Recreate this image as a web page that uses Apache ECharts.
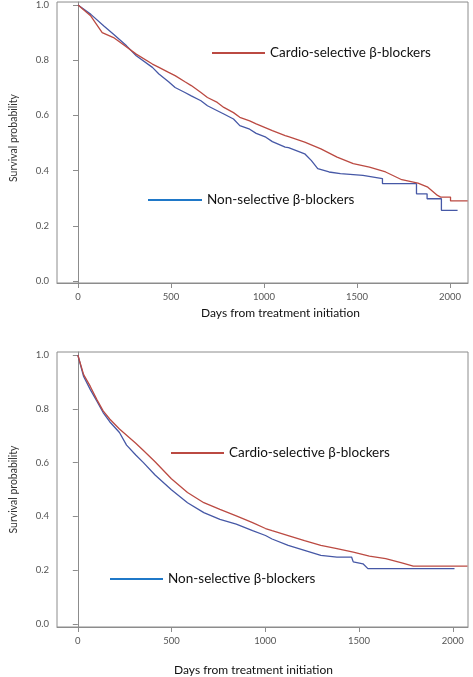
<!DOCTYPE html>
<html>
<head>
<meta charset="utf-8">
<script src="https://cdn.jsdelivr.net/npm/echarts@6/dist/echarts.min.js"></script>
<style>
html,body{margin:0;padding:0;background:#fff;}
#chart{width:473px;height:677px;}
</style>
</head>
<body>
<div id="chart"></div>
<script>
// ---- Data ----
var seriesNames = ['Cardio-selective β-blockers', 'Non-selective β-blockers'];
var xTicks = [0, 500, 1000, 1500, 2000];
var yTicks = [0, 0.2, 0.4, 0.6, 0.8, 1.0];

// Top panel
var topCardioDays = [0, 69, 130, 191, 252, 313, 400, 435, 487, 522, 575, 609, 661, 696, 749, 784, 836, 870, 923, 958, 1045, 1114, 1132, 1219, 1306, 1393, 1480, 1567, 1654, 1741, 1828, 1881, 1933, 1950, 2003, 2003, 2095];
var topCardioSurv = [1.0, 0.96, 0.90, 0.882, 0.852, 0.822, 0.786, 0.774, 0.756, 0.744, 0.722, 0.708, 0.683, 0.665, 0.647, 0.629, 0.610, 0.593, 0.580, 0.569, 0.545, 0.527, 0.523, 0.503, 0.479, 0.449, 0.425, 0.413, 0.395, 0.367, 0.355, 0.340, 0.310, 0.304, 0.304, 0.290, 0.290];
var topNonDays = [0, 69, 139, 191, 261, 313, 400, 435, 487, 522, 575, 609, 661, 696, 749, 784, 836, 870, 923, 958, 1010, 1045, 1114, 1132, 1219, 1254, 1289, 1350, 1411, 1532, 1637, 1637, 1820, 1820, 1877, 1877, 1954, 1954, 2041];
var topNonSurv = [1.0, 0.966, 0.924, 0.894, 0.852, 0.816, 0.774, 0.750, 0.722, 0.701, 0.683, 0.671, 0.653, 0.635, 0.617, 0.605, 0.587, 0.563, 0.550, 0.535, 0.521, 0.505, 0.485, 0.483, 0.461, 0.437, 0.407, 0.395, 0.389, 0.383, 0.371, 0.353, 0.353, 0.316, 0.316, 0.298, 0.298, 0.256, 0.256];

// Bottom panel
var botCardioDays = [0, 31, 66, 101, 135, 170, 222, 309, 350, 412, 499, 585, 672, 758, 845, 932, 1001, 1036, 1122, 1209, 1296, 1382, 1469, 1555, 1642, 1728, 1789, 2078];
var botCardioSurv = [1.0, 0.927, 0.884, 0.835, 0.792, 0.762, 0.725, 0.672, 0.645, 0.603, 0.540, 0.489, 0.451, 0.426, 0.402, 0.377, 0.355, 0.347, 0.329, 0.310, 0.292, 0.280, 0.267, 0.252, 0.243, 0.227, 0.215, 0.215];
var botNonDays = [0, 31, 66, 101, 135, 170, 222, 260, 309, 350, 412, 499, 585, 672, 758, 845, 932, 1001, 1036, 1122, 1209, 1296, 1382, 1460, 1469, 1521, 1547, 2009];
var botNonSurv = [1.0, 0.92, 0.872, 0.829, 0.786, 0.752, 0.712, 0.665, 0.628, 0.600, 0.554, 0.499, 0.451, 0.414, 0.389, 0.371, 0.347, 0.329, 0.316, 0.292, 0.274, 0.255, 0.249, 0.249, 0.231, 0.224, 0.206, 0.206];

function zip(a, b) { return a.map(function (v, i) { return [v, b[i]]; }); }

// ---- Styles ----
var RED = '#bb4a42';
var BLUE = '#4658a6';
var LEG_BLUE = '#1f78c8';
var AXIS = '#8c8c8c';
var FONT = 'Lato, "Open Sans", sans-serif';

function xAxisCfg(idx, min, max, gap, pad) {
  return {
    type: 'value', gridIndex: idx, min: min, max: max,
    name: 'Days from treatment initiation', nameLocation: 'middle', nameGap: gap,
    nameTextStyle: { fontFamily: FONT, fontSize: 12, color: '#111', padding: pad },
    axisLine: { show: true, onZero: false, lineStyle: { color: AXIS, width: 1 } },
    axisTick: { show: true, length: 5, customValues: xTicks, lineStyle: { color: AXIS } },
    axisLabel: { customValues: xTicks, margin: 9, fontFamily: FONT, fontSize: 9.5, color: '#555',
      formatter: function (v) { return String(v); } },
    splitLine: { show: false }
  };
}
function yAxisCfg(idx, min, max, pad) {
  return {
    type: 'value', gridIndex: idx, min: min, max: max,
    name: 'Survival probability', nameLocation: 'middle', nameGap: 38,
    nameTextStyle: { fontFamily: FONT, fontSize: 10.5, color: '#333', padding: pad },
    axisLine: { show: true, lineStyle: { color: AXIS, width: 1 } },
    axisTick: { show: true, length: 5, customValues: yTicks, lineStyle: { color: AXIS } },
    axisLabel: { customValues: yTicks, margin: 8, fontFamily: FONT, fontSize: 9.5, color: '#555',
      formatter: function (v) { return v.toFixed(1); } },
    splitLine: { show: false }
  };
}
function lineSeries(name, idx, data, color) {
  return {
    type: 'line', name: name, xAxisIndex: idx, yAxisIndex: idx,
    data: data, showSymbol: false, symbol: 'none', smooth: false,
    lineStyle: { color: color, width: 1.3 }, itemStyle: { color: color },
    animation: false, silent: true
  };
}
function legendCfg(name, color, left, top, w) {
  return {
    data: [{ name: name, icon: 'rect', itemStyle: { color: color } }],
    left: left, top: top, itemWidth: w, itemHeight: 2, padding: 0,
    selectedMode: false,
    textStyle: { fontFamily: FONT, fontSize: 13.5, color: '#111' }
  };
}

var chart = echarts.init(document.getElementById('chart'), null, { renderer: 'canvas' });
chart.setOption({
  backgroundColor: '#fff',
  animation: false,
  grid: [
    { left: 45, top: 1, width: 423, height: 282, show: true, borderColor: AXIS, borderWidth: 1, containLabel: false },
    { left: 46, top: 352, width: 422, height: 279, show: true, borderColor: AXIS, borderWidth: 1, containLabel: false }
  ],
  xAxis: [
    xAxisCfg(0, -113, 2097, 24, [0, 0, 0, 36]),
    xAxisCfg(1, -111, 2081, 37, [0, 18, 0, 0])
  ],
  yAxis: [
    yAxisCfg(0, -0.0072, 1.0108, [0, 0, 0, 9]),
    yAxisCfg(1, -0.011, 1.011, [0, 0, 0, 0])
  ],
  legend: [
    legendCfg(seriesNames[0], RED, 212, 46, 53),
    legendCfg(seriesNames[1], LEG_BLUE, 148, 193, 54),
    legendCfg(seriesNames[0], RED, 171, 446, 53),
    legendCfg(seriesNames[1], LEG_BLUE, 110, 572, 53)
  ],
  series: [
    lineSeries(seriesNames[1], 0, zip(topNonDays, topNonSurv), BLUE),
    lineSeries(seriesNames[0], 0, zip(topCardioDays, topCardioSurv), RED),
    lineSeries(seriesNames[1], 1, zip(botNonDays, botNonSurv), BLUE),
    lineSeries(seriesNames[0], 1, zip(botCardioDays, botCardioSurv), RED)
  ]
});
</script>
</body>
</html>
